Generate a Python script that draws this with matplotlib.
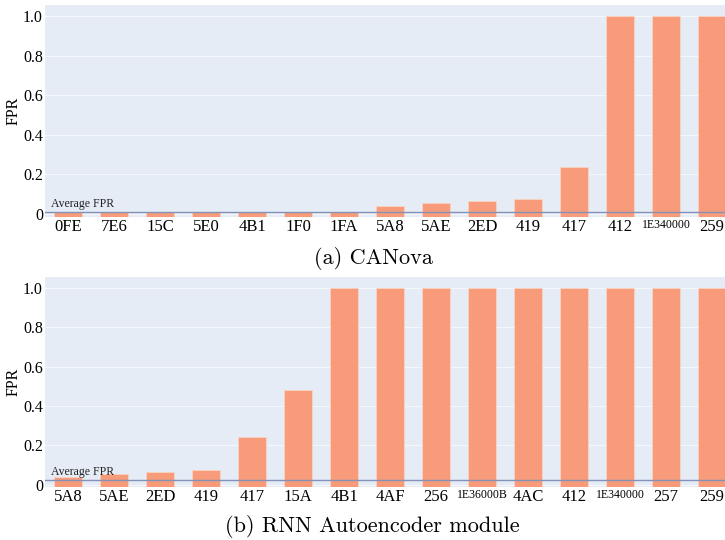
import matplotlib.pyplot as plt
import numpy as np

BAR = "#f79b7b"
BG = "#e5ecf6"
AVG = "#8592b8"
SERIF = ["Liberation Serif", "DejaVu Serif"]

# (a) CANova
ids_a = ["0FE", "7E6", "15C", "5E0", "4B1", "1F0", "1FA", "5A8", "5AE", "2ED",
         "419", "417", "412", "1E340000", "259"]
fpr_a = [0.012, 0.012, 0.012, 0.012, 0.012, 0.012, 0.012, 0.04, 0.054, 0.066,
         0.075, 0.24, 1.0, 1.0, 1.0]
avg_a = 0.009

# (b) RNN Autoencoder module
ids_b = ["5A8", "5AE", "2ED", "419", "417", "15A", "4B1", "4AF", "256", "1E36000B",
         "4AC", "412", "1E340000", "257", "259"]
fpr_b = [0.04, 0.055, 0.065, 0.075, 0.24, 0.48, 1.0, 1.0, 1.0, 1.0,
         1.0, 1.0, 1.0, 1.0, 1.0]
avg_b = 0.022

YMIN, YMAX = -0.012, 1.055


def panel(ax, ids, vals, avg):
    x = np.arange(len(ids))
    vals = np.array(vals)
    ax.set_facecolor(BG)
    ax.bar(x, vals - YMIN, bottom=YMIN, width=0.6, color=BAR,
           edgecolor="#fbd3c2", linewidth=0.6, zorder=2)
    ax.axhline(avg, color=AVG, linewidth=1.0, zorder=3)
    ax.text(-0.38, avg + 0.01, "Average FPR", fontsize=8.5, family=SERIF,
            ha="left", va="bottom", color="#222222", zorder=4)
    ax.set_xlim(-0.5, 14.28)
    ax.set_ylim(YMIN, YMAX)
    ax.set_yticks([0, 0.2, 0.4, 0.6, 0.8, 1.0])
    ax.set_yticklabels(["0", "0.2", "0.4", "0.6", "0.8", "1.0"], family=SERIF, fontsize=11.5)
    ax.set_xticks(x)
    ax.set_xticklabels(ids, family=SERIF, fontsize=12)
    for lab in ax.get_xticklabels():
        if len(lab.get_text()) > 4:
            lab.set_fontsize(8.5)
    ax.tick_params(length=0, pad=1.5)
    ax.grid(axis="y", color="white", linewidth=0.8, alpha=0.6, zorder=0)
    ax.set_axisbelow(True)
    for s in ax.spines.values():
        s.set_visible(False)
    ax.set_ylabel("FPR", family=SERIF, fontsize=11.5)
    ax.yaxis.set_label_coords(-0.034, 0.5)


fig = plt.figure(figsize=(7.25, 5.4), dpi=100)
W, H = 725, 540
ax1 = fig.add_axes([45 / W, 1 - 216.5 / H, 680 / W, 211.5 / H])
ax2 = fig.add_axes([45 / W, 1 - 487 / H, 680 / W, 210 / H])
panel(ax1, ids_a, fpr_a, avg_a)
panel(ax2, ids_b, fpr_b, avg_b)

fig.text(373 / W, 1 - 258 / H, "(a) CANova", family=["cmr10", "DejaVu Serif"],
         fontsize=16, ha="center", va="center")
fig.text(372 / W, 1 - 527 / H, "(b) RNN Autoencoder module", family=["cmr10", "DejaVu Serif"],
         fontsize=16, ha="center", va="center")

fig.savefig("out.png", dpi=100)
